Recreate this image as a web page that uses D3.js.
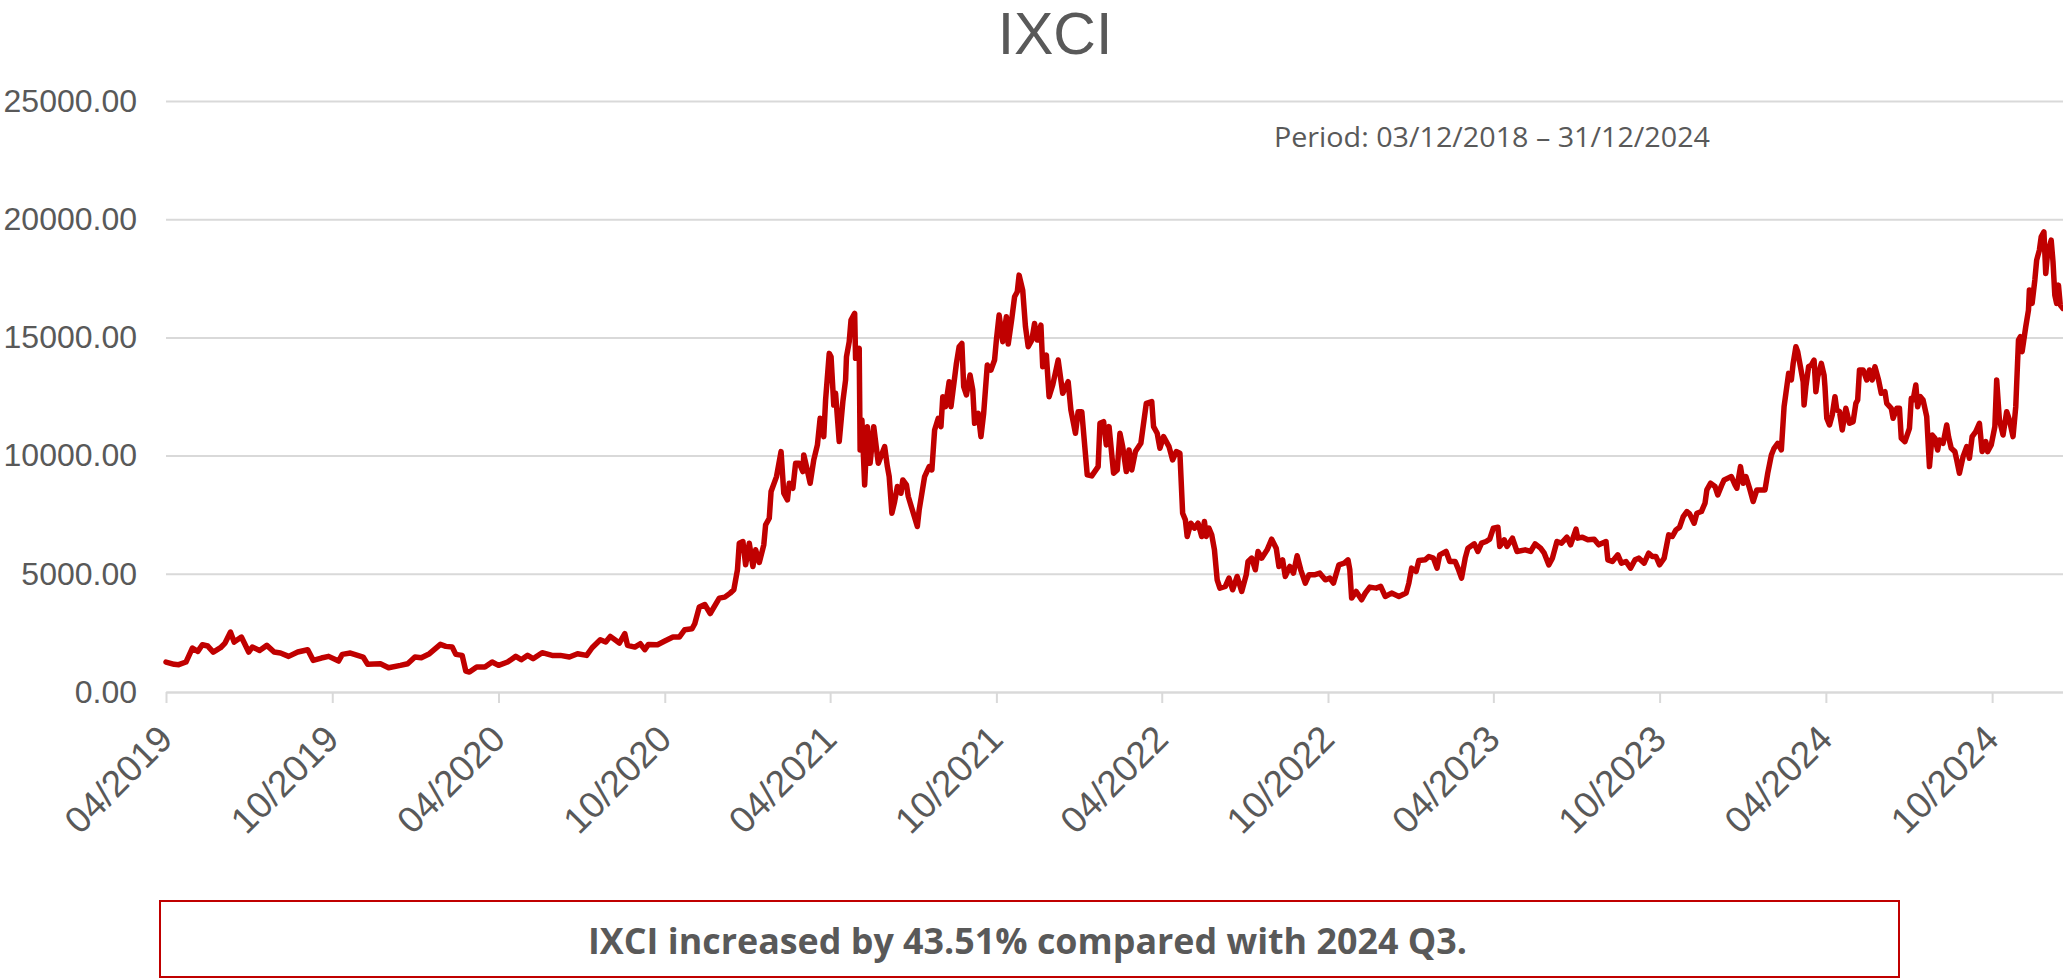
<!DOCTYPE html>
<html>
<head>
<meta charset="utf-8">
<script src="https://cdn.jsdelivr.net/npm/d3@7"></script>
<style>
  body { margin: 0; background: #ffffff; }
  svg { display: block; }
</style>
</head>
<body>
<svg id="chart" width="2063" height="980"></svg>
<script>
// ---------------- data ----------------
const dates2019 = ["2019-04-01","2019-04-10","2019-04-15","2019-04-23","2019-04-30","2019-05-06","2019-05-11","2019-05-17","2019-05-23","2019-05-31",
  "2019-06-05","2019-06-11","2019-06-15","2019-06-23","2019-07-01","2019-07-05","2019-07-13","2019-07-21","2019-07-29","2019-08-05",
  "2019-08-14","2019-08-24","2019-09-04","2019-09-10","2019-09-19","2019-09-27","2019-10-08","2019-10-12","2019-10-21","2019-11-04",
  "2019-11-09","2019-11-23","2019-12-02","2019-12-15","2019-12-23","2019-12-31"];
const values2019 = [1268,1169,1155,1268,1859,1718,2000,1944,1690,1873,
  2070,2535,2113,2324,1690,1901,1760,1972,1690,1648,
  1507,1690,1789,1338,1437,1507,1310,1592,1648,1479,
  1169,1197,1028,1127,1197,1479];

const dates2020 = ["2020-01-07","2020-01-16","2020-01-28","2020-02-03","2020-02-10","2020-02-14","2020-02-21","2020-02-25","2020-02-29","2020-03-08",
  "2020-03-17","2020-03-25","2020-04-01","2020-04-11","2020-04-20","2020-04-26","2020-05-03","2020-05-09","2020-05-19","2020-05-30",
  "2020-06-08","2020-06-18","2020-06-27","2020-07-07","2020-07-13","2020-07-22","2020-07-28","2020-08-02","2020-08-12","2020-08-18",
  "2020-08-21","2020-08-29","2020-09-04","2020-09-09","2020-09-13","2020-09-23","2020-10-01","2020-10-10","2020-10-17","2020-10-23",
  "2020-10-31","2020-11-03","2020-11-08","2020-11-14","2020-11-20","2020-11-30","2020-12-06","2020-12-12","2020-12-16","2020-12-20",
  "2020-12-22","2020-12-26","2020-12-29"];
const values2020 = [1451,1620,2014,1930,1901,1592,1549,887,845,1056,
  1056,1268,1127,1268,1507,1366,1549,1408,1662,1549,
  1549,1479,1620,1549,1873,2211,2113,2352,2070,2465,
  1972,1901,2042,1789,2014,2000,2155,2324,2324,2634,
  2676,2887,3592,3700,3320,3972,4014,4183,4324,5169,
  6296,6366,5380];

const dates2021 = ["2021-01-02","2021-01-06","2021-01-09","2021-01-13","2021-01-18","2021-01-20","2021-01-24","2021-01-26","2021-02-01","2021-02-06",
  "2021-02-09","2021-02-13","2021-02-15","2021-02-19","2021-02-22","2021-02-26","2021-03-02","2021-03-03","2021-03-06","2021-03-10",
  "2021-03-14","2021-03-18","2021-03-21","2021-03-25","2021-03-27","2021-03-31","2021-04-02","2021-04-05","2021-04-07","2021-04-11",
  "2021-04-15","2021-04-18","2021-04-19","2021-04-22","2021-04-24","2021-04-28","2021-04-29","2021-05-03","2021-05-04","2021-05-06",
  "2021-05-09","2021-05-12","2021-05-15","2021-05-19","2021-05-24","2021-05-31","2021-06-03","2021-06-05","2021-06-08","2021-06-11",
  "2021-06-14","2021-06-18","2021-06-20","2021-06-24","2021-06-26","2021-07-01","2021-07-06","2021-07-08","2021-07-14","2021-07-19",
  "2021-07-22","2021-07-25","2021-07-29","2021-08-01","2021-08-03","2021-08-06","2021-08-10","2021-08-12","2021-08-18","2021-08-21",
  "2021-08-24","2021-08-26","2021-08-29","2021-09-02","2021-09-05","2021-09-07","2021-09-11","2021-09-14","2021-09-17","2021-09-21",
  "2021-09-25","2021-09-29","2021-10-01","2021-10-04","2021-10-08","2021-10-12","2021-10-14","2021-10-18","2021-10-21","2021-10-24",
  "2021-10-26","2021-10-30","2021-11-02","2021-11-05","2021-11-09","2021-11-12","2021-11-15","2021-11-19","2021-11-21","2021-11-25",
  "2021-11-28","2021-12-02","2021-12-08","2021-12-13","2021-12-19","2021-12-22","2021-12-27","2021-12-30"];
const values2021 = [6296,5310,6014,5479,6225,7070,7352,8479,9113,10169,
  8408,8127,8831,8620,9676,9676,9324,10028,9535,8831,
  9817,10451,11577,10803,12352,14324,14183,12141,12634,10592,
  12282,13197,14183,14817,15732,16014,14113,14535,10239,11507,
  8761,11225,9676,11225,9676,10380,9535,9113,7563,8056,
  8690,8408,8972,8761,8268,7634,7000,7704,9113,9535,
  9394,11085,11577,11225,12493,12070,13127,12070,13901,14606,
  14746,12915,12563,13408,12775,11366,11789,10803,11789,13831,
  13620,14042,14887,15944,14817,15873,14718,15803,16718,16930,
  17634,16986,15451,14606,14887,15592,14887,15521,13761,14254,
  12493,12986,14042,12634,13127,11930,10944,11859];

const dates2022 = ["2022-01-03","2022-01-09","2022-01-14","2022-01-21","2022-01-23","2022-01-27","2022-01-30","2022-02-02","2022-02-07","2022-02-11",
  "2022-02-14","2022-02-17","2022-02-21","2022-02-24","2022-02-27","2022-03-03","2022-03-09","2022-03-15","2022-03-21","2022-03-23",
  "2022-03-27","2022-03-30","2022-04-03","2022-04-09","2022-04-13","2022-04-17","2022-04-21","2022-04-24","2022-04-27","2022-04-29",
  "2022-05-03","2022-05-07","2022-05-11","2022-05-15","2022-05-18","2022-05-20","2022-05-23","2022-05-26","2022-05-29","2022-06-01",
  "2022-06-04","2022-06-10","2022-06-14","2022-06-18","2022-06-23","2022-06-28","2022-07-03","2022-07-05","2022-07-09","2022-07-13",
  "2022-07-16","2022-07-20","2022-07-26","2022-07-31","2022-08-05","2022-08-08","2022-08-12","2022-08-15","2022-08-20","2022-08-24",
  "2022-08-28","2022-09-01","2022-09-06","2022-09-10","2022-09-16","2022-09-22","2022-09-28","2022-10-03","2022-10-07","2022-10-13",
  "2022-10-19","2022-10-23","2022-10-25","2022-10-27","2022-11-01","2022-11-07","2022-11-11","2022-11-16","2022-11-23","2022-11-28",
  "2022-12-03","2022-12-10","2022-12-18","2022-12-26","2022-12-29"];
const values2022 = [11859,9183,9141,9535,11366,11437,10451,11225,9254,9394,
  10944,10380,9324,10239,9394,10169,10521,12211,12282,11225,
  10944,10310,10803,10380,9817,10169,10099,7563,7282,6577,
  7141,6930,7141,6577,7211,6577,6930,6648,6014,4746,
  4394,4465,4817,4324,4887,4254,4958,5521,5662,5169,
  5944,5662,6014,6465,6085,5310,5592,4887,5310,5028,
  5761,5169,4606,4958,4958,5028,4746,4817,4606,5380,
  5451,5592,5169,3972,4254,3901,4183,4437,4394,4465,
  4042,4183,4042,4183,4606];

const dates2023 = ["2023-01-01","2023-01-06","2023-01-09","2023-01-16","2023-01-20","2023-01-25","2023-01-29","2023-02-01","2023-02-08","2023-02-12",
  "2023-02-18","2023-02-21","2023-02-25","2023-03-01","2023-03-04","2023-03-11","2023-03-15","2023-03-19","2023-03-24","2023-03-28",
  "2023-04-01","2023-04-06","2023-04-08","2023-04-13","2023-04-16","2023-04-22","2023-04-27","2023-05-06","2023-05-12","2023-05-17",
  "2023-05-23","2023-05-27","2023-06-01","2023-06-05","2023-06-10","2023-06-15","2023-06-21","2023-06-25","2023-07-01","2023-07-03",
  "2023-07-08","2023-07-14","2023-07-21","2023-07-26","2023-08-03","2023-08-05","2023-08-10","2023-08-16","2023-08-20","2023-08-25",
  "2023-08-30","2023-09-04","2023-09-08","2023-09-14","2023-09-19","2023-09-23","2023-09-27","2023-10-01","2023-10-06","2023-10-11",
  "2023-10-15","2023-10-19","2023-10-23","2023-10-27","2023-10-31","2023-11-03","2023-11-08","2023-11-11","2023-11-16","2023-11-20",
  "2023-11-22","2023-11-26","2023-12-01","2023-12-04","2023-12-08","2023-12-11","2023-12-15","2023-12-19","2023-12-23","2023-12-25",
  "2023-12-29"];
const values2023 = [5239,5099,5563,5592,5732,5662,5239,5803,5944,5521,
  5521,5239,4817,5662,6085,6268,5944,6296,6366,6465,
  6930,6972,6155,6437,6155,6507,5944,6014,5944,6268,
  6085,5873,5380,5662,6366,6296,6549,6225,6887,6507,
  6549,6437,6465,6225,6366,5592,5521,5803,5451,5521,
  5239,5592,5662,5451,5873,5732,5732,5380,5662,6648,
  6577,6859,6972,7423,7634,7535,7141,7563,7634,7986,
  8549,8831,8690,8338,8718,8972,9042,9113,8761,8620,
  9535];

const dates2024 = ["2024-01-01","2024-01-04","2024-01-08","2024-01-12","2024-01-16","2024-01-21","2024-01-25","2024-01-28","2024-02-01","2024-02-04",
  "2024-02-08","2024-02-12","2024-02-15","2024-02-17","2024-02-20","2024-02-23","2024-02-25","2024-02-28","2024-03-01","2024-03-04",
  "2024-03-07","2024-03-08","2024-03-10","2024-03-13","2024-03-16","2024-03-19","2024-03-21","2024-03-23","2024-03-27","2024-03-30",
  "2024-03-31","2024-04-02","2024-04-05","2024-04-08","2024-04-11","2024-04-13","2024-04-16","2024-04-19","2024-04-23","2024-04-27",
  "2024-05-01","2024-05-04","2024-05-06","2024-05-08","2024-05-12","2024-05-16","2024-05-19","2024-05-22","2024-05-25","2024-05-29",
  "2024-06-01","2024-06-05","2024-06-07","2024-06-12","2024-06-14","2024-06-18","2024-06-21","2024-06-23","2024-06-27","2024-07-02",
  "2024-07-04","2024-07-06","2024-07-09","2024-07-11","2024-07-14","2024-07-17","2024-07-21","2024-07-24","2024-07-27","2024-07-30",
  "2024-08-02","2024-08-04","2024-08-08","2024-08-12","2024-08-14","2024-08-17","2024-08-21","2024-08-23","2024-08-26","2024-08-30",
  "2024-09-03","2024-09-06","2024-09-09","2024-09-13","2024-09-17","2024-09-20","2024-09-24","2024-09-26","2024-09-30","2024-10-04",
  "2024-10-06","2024-10-09","2024-10-13","2024-10-17","2024-10-20","2024-10-24","2024-10-27","2024-10-30","2024-11-01","2024-11-03",
  "2024-11-07","2024-11-10","2024-11-11","2024-11-14","2024-11-17","2024-11-19","2024-11-22","2024-11-24","2024-11-27","2024-11-29",
  "2024-12-01","2024-12-05","2024-12-07","2024-12-09","2024-12-11","2024-12-13","2024-12-15","2024-12-18"];
const values2024 = [8831,9113,8620,8056,8549,8549,8549,9254,10028,10310,
  10521,10239,12070,12634,13479,13197,13901,14606,14394,13761,
  13127,12141,12915,13761,13831,14042,12704,13338,13901,13408,
  12915,11577,11296,11718,12493,11930,11859,11085,12000,11366,
  11437,12211,12352,13620,13620,13197,13620,13197,13761,13197,
  12634,12704,12211,12000,11577,12000,12000,10732,10592,11155,
  12423,12352,12986,12070,12493,12352,11648,9535,10873,10732,
  10239,10662,10521,11296,10803,10310,10169,9817,9254,9958,
  10380,9887,10803,11014,11366,10169,10592,10169,10451,11225,
  13197,11507,10873,11859,11507,10803,12070,14887,15028,14394,
  15451,16155,17000,16437,17423,18268,18690,19254,19465,17704,
  18549,19113,18197,16789,16437,17211,16366,16225];

const yTickValues = [0, 5000, 10000, 15000, 20000, 25000];
const xTickDates = ["2019-04-01","2019-10-01","2020-04-01","2020-10-01","2021-04-01","2021-10-01",
  "2022-04-01","2022-10-01","2023-04-01","2023-10-01","2024-04-01","2024-10-01"];
const xDomain = ["2019-04-01", "2024-12-18"];
const yDomain = [0, 25000];

const titleText = "IXCI";
const periodText = "Period: 03/12/2018 \u2013 31/12/2024";
const noteText = "IXCI increased by 43.51% compared with 2024 Q3.";

// ---------------- build ----------------
const parse = d3.timeParse("%Y-%m-%d");
const allDates = [].concat(dates2019, dates2020, dates2021, dates2022, dates2023, dates2024);
const allValues = [].concat(values2019, values2020, values2021, values2022, values2023, values2024);
const series = allDates.map((d, i) => ({ date: parse(d), value: allValues[i] }));

const plot = { left: 166, right: 2063, top: 101, bottom: 692 };
const TEXT = "#595959";
const GRID = "#d9d9d9";
const RED = "#c00000";

const svg = d3.select("#chart");

const x = d3.scaleTime()
  .domain(xDomain.map(parse))
  .range([plot.left, plot.right]);
const y = d3.scaleLinear()
  .domain(yDomain)
  .range([plot.bottom, plot.top]);

// Title
svg.append("text")
  .attr("x", 1055).attr("y", 54)
  .attr("text-anchor", "middle")
  .attr("font-family", "'Liberation Sans', Arial, sans-serif")
  .attr("font-size", 59)
  .attr("fill", TEXT)
  .text(titleText);

// Y axis with gridlines
const yAxis = d3.axisLeft(y)
  .tickValues(yTickValues)
  .tickSize(-(plot.right - plot.left))
  .tickPadding(29)
  .tickFormat(d3.format(".2f"));
const gy = svg.append("g")
  .attr("transform", `translate(${plot.left},0)`)
  .call(yAxis);
gy.select(".domain").remove();
gy.selectAll(".tick line").attr("stroke", GRID).attr("stroke-width", 2);
gy.selectAll(".tick text")
  .attr("font-family", "'Liberation Sans', Arial, sans-serif")
  .attr("font-size", 32)
  .attr("fill", TEXT);

// X axis
const xAxis = d3.axisBottom(x)
  .tickValues(xTickDates.map(parse))
  .tickSize(11)
  .tickSizeOuter(0)
  .tickFormat(d3.timeFormat("%m/%Y"));
const gx = svg.append("g")
  .attr("transform", `translate(0,${plot.bottom})`)
  .call(xAxis);
gx.select(".domain").attr("stroke", GRID).attr("stroke-width", 2);
gx.selectAll(".tick line").attr("stroke", GRID).attr("stroke-width", 2);
gx.selectAll(".tick text")
  .attr("x", null).attr("y", null)
  .attr("dy", "0.35em")
  .attr("text-anchor", "end")
  .attr("transform", "translate(-1,40) rotate(-45)")
  .attr("font-family", "'Liberation Sans', Arial, sans-serif")
  .attr("font-size", 37)
  .attr("fill", TEXT);

// Period note
svg.append("text")
  .attr("x", 1274).attr("y", 147)
  .attr("font-family", "'Open Sans', 'Noto Sans', sans-serif")
  .attr("font-size", 28)
  .attr("textLength", 436)
  .attr("lengthAdjust", "spacingAndGlyphs")
  .attr("fill", TEXT)
  .text(periodText);

// Line
const line = d3.line()
  .x(d => x(d.date))
  .y(d => y(d.value));
svg.append("path")
  .datum(series)
  .attr("d", line)
  .attr("fill", "none")
  .attr("stroke", RED)
  .attr("stroke-width", 5.5)
  .attr("stroke-linejoin", "round")
  .attr("stroke-linecap", "round");

// Bottom note box
svg.append("rect")
  .attr("x", 160).attr("y", 901)
  .attr("width", 1739).attr("height", 76)
  .attr("fill", "none")
  .attr("stroke", RED)
  .attr("stroke-width", 2);
svg.append("text")
  .attr("x", 588).attr("y", 954)
  .attr("font-family", "'Open Sans', 'Noto Sans', sans-serif")
  .attr("font-weight", "bold")
  .attr("font-size", 36)
  .attr("textLength", 879)
  .attr("lengthAdjust", "spacingAndGlyphs")
  .attr("fill", TEXT)
  .text(noteText);
</script>
</body>
</html>
